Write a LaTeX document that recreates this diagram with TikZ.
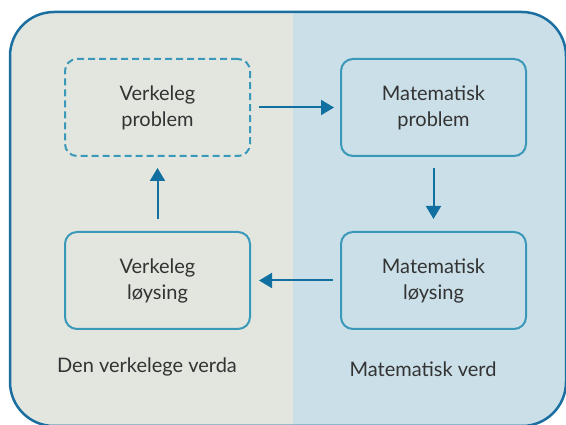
\documentclass[tikz,border=0pt]{standalone}
\usepackage{fontspec}
\setmainfont{Lato}
\usepackage{tikz}
\usetikzlibrary{arrows.meta,positioning}
\definecolor{FrameBlue}{RGB}{27,110,160}
\definecolor{BoxBlue}{RGB}{58,152,184}
\definecolor{ArrowBlue}{RGB}{17,112,160}
\definecolor{SoftGrey}{RGB}{226,230,223}
\definecolor{SoftBlue}{RGB}{203,223,232}
\definecolor{TextGrey}{RGB}{51,51,51}

\begin{document}
\begin{tikzpicture}[x=1pt,y=1pt,node distance=74pt and 89pt,
  box/.style={draw=BoxBlue,line width=2pt,rounded corners=12pt,minimum width=185pt,minimum height=97pt,align=center,text=TextGrey,font=\fontsize{20}{26}\selectfont},
  flow/.style={-{Triangle[length=13pt,width=15pt]},draw=ArrowBlue,line width=2pt}]
\useasboundingbox (0,0) rectangle (566,425);
% two worlds inside the rounded frame
\begin{scope}
\clip[rounded corners=44pt] (10,-1) rectangle (566,413);
\fill[SoftGrey] (0,0) rectangle (293,425);
\fill[SoftBlue] (293,0) rectangle (566,425);
\end{scope}
\draw[FrameBlue,line width=2.5pt,rounded corners=44pt] (10,-1) rectangle (566,413);
\node[box,dashed,dash pattern=on 7pt off 4pt] (vp) at (157.5,317.5) {Verkeleg\\problem};
\node[box,right=of vp] (mp) {Matematisk\\problem};
\node[box,below=of mp] (ml) {Matematisk\\løysing};
\node[box,below=of vp] (vl) {Verkeleg\\løysing};
\draw[flow,shorten <=8pt,shorten >=6pt] (vp)--(mp);
\draw[flow,shorten <=11pt,shorten >=12pt] (mp)--(ml);
\draw[flow,shorten <=7pt,shorten >=8pt] (ml)--(vl);
\draw[flow,shorten <=12pt,shorten >=11pt] (vl)--(vp);
\node[text=TextGrey,font=\fontsize{20}{24}\selectfont] (vw) at (147,58) {Den verkelege verda};
\node[text=TextGrey,font=\fontsize{20}{24}\selectfont] (mw) at (423,56) {Matematisk verd};
\end{tikzpicture}
\end{document}
